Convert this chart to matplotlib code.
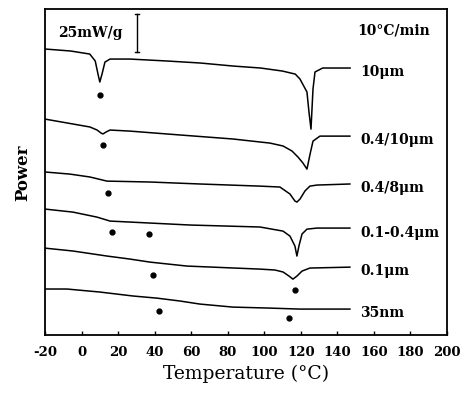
import matplotlib
matplotlib.use("Agg")
import matplotlib.pyplot as plt

# ---- data (temperature in °C, heat-flow power in mW/g, curves offset vertically) ----
t_10um = [-20, -6, 4.5, 7.5, 9, 10, 11.2, 12.8, 15.6, 26.5, 47, 65, 83, 98, 110, 117,
          119.6, 123.4, 124.5, 125.6, 126.7, 127.8, 132, 147]
p_10um = [188.2, 186.9, 184.9, 180.3, 171.7, 166.5, 171.7, 179.6, 181.6, 181.6, 180.3,
          179.0, 177.0, 175.7, 173.7, 171.7, 168.4, 159.9, 146.7, 135.5, 161.9, 173.1,
          175.7, 175.7]

t_04_10 = [-20, 4.6, 8.5, 10.7, 11.7, 13.4, 15.6, 26.5, 46.8, 82.9, 103.2, 110.3, 115.2,
           118.5, 121.2, 123.4, 125.1, 126.7, 130.5, 146.9]
p_04_10 = [142.1, 136.9, 134.9, 132.9, 132.3, 133.6, 134.9, 134.2, 132.3, 129.0, 126.3,
           124.4, 121.1, 117.1, 113.2, 109.2, 119.1, 127.6, 130.9, 130.9]

t_04_8 = [-20, -6.3, 4.6, 13.9, 37.5, 64.8, 97.7, 108.6, 114.1, 116.8, 117.9, 119.6,
          122.3, 125.0, 128.9, 146.9]
p_04_8 = [107.3, 105.9, 104.0, 101.3, 100.7, 99.4, 98.0, 97.4, 92.8, 88.2, 87.5, 89.5,
          94.8, 98.0, 98.7, 99.4]

t_01_04 = [-20, -4.7, 8.5, 15.6, 37.5, 59.4, 97.7, 110.3, 114.1, 116.8, 117.9, 119.0,
           120.7, 123.4, 128.9, 146.9]
p_01_04 = [82.9, 80.9, 77.6, 75.0, 73.7, 72.4, 71.1, 68.4, 65.1, 58.6, 52.0, 58.6,
           66.5, 69.7, 70.4, 70.4]

t_01 = [-20, -4.7, 13.9, 26.5, 37.5, 57.7, 97.7, 105.9, 110.3, 113.6, 115.7, 117.9,
        120.7, 125.0, 146.9]
p_01 = [57.2, 55.3, 52.0, 50.0, 48.0, 45.4, 43.4, 42.8, 41.5, 38.8, 36.8, 38.8, 42.1,
        44.1, 44.7]

t_35nm = [-20, -8.0, 10.1, 28.2, 41.3, 53.9, 64.8, 82.9, 101.5, 119.6, 146.9]
p_35nm = [30.3, 30.3, 28.3, 25.7, 24.3, 22.4, 20.4, 18.4, 17.8, 17.1, 17.1]

series_t = [t_10um, t_04_10, t_04_8, t_01_04, t_01, t_35nm]
series_p = [p_10um, p_04_10, p_04_8, p_01_04, p_01, p_35nm]
labels = ["10\u03bcm", "0.4/10\u03bcm", "0.4/8\u03bcm", "0.1-0.4\u03bcm", "0.1\u03bcm", "35nm"]
label_p = [173.7, 129.0, 97.4, 67.8, 42.8, 15.1]

# transition markers (dots)
dot_t = [10.1, 11.7, 14.5, 16.7, 36.9, 39.1, 116.8, 42.4, 113.6]
dot_p = [157.9, 125.0, 93.4, 67.8, 66.5, 39.5, 29.6, 15.8, 11.2]

xticks = [-20, 0, 20, 40, 60, 80, 100, 120, 140, 160, 180, 200]

# ---- figure ----
fig = plt.figure(figsize=(4.66, 4.02), dpi=100)
ax = fig.add_axes([0.0966, 0.164, 0.8624, 0.811])

for t, p in zip(series_t, series_p):
    ax.plot(t, p, color="black", lw=1.1, solid_joinstyle="round")

ax.plot(dot_t, dot_p, "o", color="black", ms=3.5, ls="none")

for lab, lp in zip(labels, label_p):
    ax.text(152.4, lp, lab, fontsize=10, fontweight="bold", family="DejaVu Serif",
            va="center", ha="left")

# scale bar 25 mW/g
ax.plot([30.4, 30.4], [186.2, 211.2], color="black", lw=1.0)
ax.plot([29.3, 31.5], [211.2, 211.2], color="black", lw=1.0)
ax.plot([29.3, 31.5], [186.2, 186.2], color="black", lw=1.0)
ax.text(-13, 199.4, "25mW/g", fontsize=10, fontweight="bold", family="DejaVu Serif",
        va="center", ha="left")
ax.text(191, 201.3, "10\u00b0C/min", fontsize=10, fontweight="bold",
        family="DejaVu Serif", va="center", ha="right")

ax.set_xlim(-20, 200)
ax.set_ylim(0, 214.5)
ax.set_xticks(xticks)
ax.set_xticklabels([str(v) for v in xticks], fontsize=9.5, fontweight="bold",
                   family="DejaVu Serif")
ax.tick_params(axis="x", direction="in", length=3, width=1, pad=7)
ax.set_yticks([])
for s in ax.spines.values():
    s.set_linewidth(1.3)

ax.set_xlabel("Temperature (\u00b0C)", fontsize=13.5, family="DejaVu Serif", labelpad=4)
ax.set_ylabel("Power", fontsize=12, family="DejaVu Serif", fontweight="bold", labelpad=10)

fig.savefig("out.png", dpi=100)
